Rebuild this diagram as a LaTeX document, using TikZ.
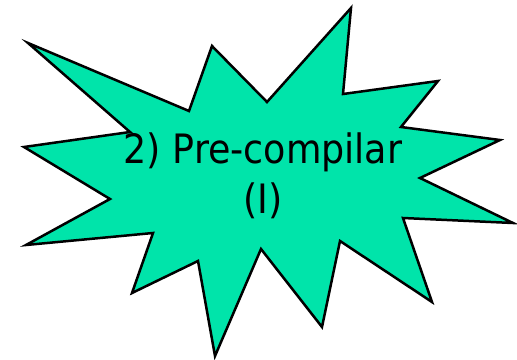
\documentclass[tikz,border=0pt]{standalone}
\usepackage{fontspec}
\setmainfont{DejaVu Sans Condensed}
\usepackage{tikz}
\definecolor{burstgreen}{RGB}{0,228,170}

\begin{document}
\begin{tikzpicture}[x=1pt, y=-1pt]
    \useasboundingbox (0, 0) rectangle (517, 359);

    % Define the look of the burst for easy reference
    \tikzset{
      burst/.style={
        fill=burstgreen, draw=black, line width=2.5pt, line join=miter,
      },
      burstlabel/.style={
        align=center, inner sep=0pt, font=\fontsize{40.5}{50}\selectfont,
      }
    }

    \draw[burst] (28, 43) -- (189, 111) -- (212, 46) -- (267, 102)
        -- (351, 8) -- (343, 94) -- (438, 81) -- (401, 127)
        -- (500, 140) -- (420, 178) -- (513, 223) -- (403, 218)
        -- (432, 302) -- (340, 241) -- (322, 327) -- (261, 249)
        -- (215, 356) -- (198, 261) -- (132, 293) -- (153, 233)
        -- (26, 245) -- (110, 199) -- (24, 147) -- (130, 132) -- cycle;

    \node[burstlabel] (label) at (263, 176) {2) Pre-compilar\\(I)};
  \end{tikzpicture}
\end{document}
